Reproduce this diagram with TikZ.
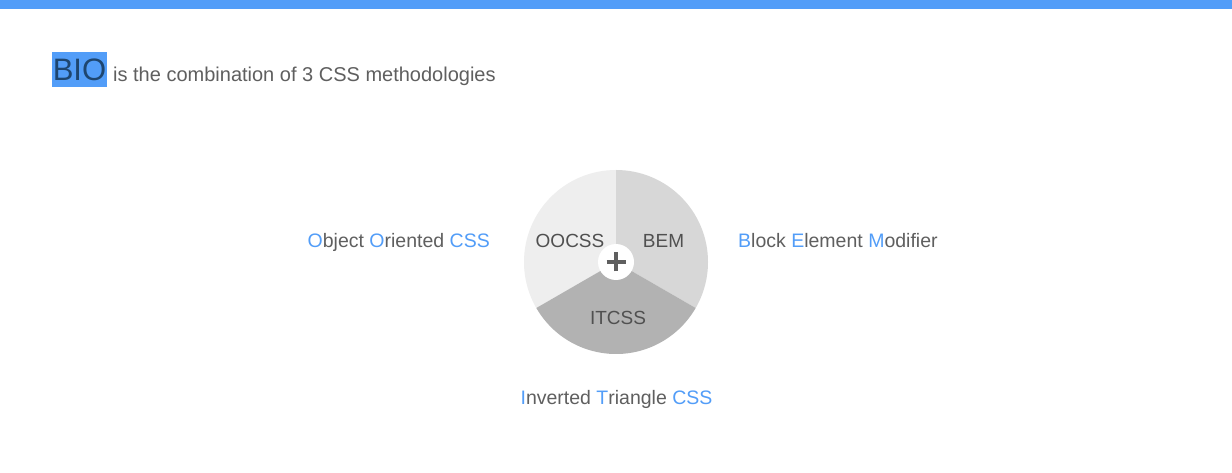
\documentclass[tikz,border=0pt]{standalone}
\usepackage{fontspec}
\setmainfont{Liberation Sans}
\usetikzlibrary{calc}
\definecolor{bioblue}{RGB}{82,157,248}
\definecolor{biodark}{RGB}{30,70,112}
\definecolor{textgray}{RGB}{95,95,95}
\definecolor{slicetext}{RGB}{80,80,80}
\definecolor{oocssgray}{RGB}{238,238,238}
\definecolor{bemgray}{RGB}{215,215,215}
\definecolor{itcssgray}{RGB}{178,178,178}
\newcommand{\hl}[1]{\textcolor{bioblue}{#1}}

\begin{document}
\begin{tikzpicture}[x=1pt, y=1pt, line cap=round, line join=round,
    txt/.style={text=textgray, inner sep=0pt, font=\fontsize{19.5}{22}\selectfont},
    slice/.style={text=slicetext, inner sep=0pt, font=\fontsize{19}{22}\selectfont}]
\useasboundingbox (0,-473) rectangle (1232,0);
\fill[white] (0,-473) rectangle (1232,0);
\fill[bioblue] (0,-9) rectangle (1232,0);
% title
\node[fill=bioblue, text=biodark, minimum width=55, minimum height=35, inner sep=0pt,
      font=\fontsize{31}{34}\selectfont] (bio) at (79.5,-69.5) {BIO};
\node[txt, anchor=base west, font=\fontsize{20}{24}\selectfont] (intro) at (113,-82) {is the combination of 3 CSS methodologies};
% pie
\coordinate (c) at (616,-262);
\fill[oocssgray] (c) -- ++(90:92) arc[start angle=90, end angle=210, radius=92] -- cycle;
\fill[bemgray] (c) -- ++(90:92) arc[start angle=90, end angle=-30, radius=92] -- cycle;
\fill[itcssgray] (c) -- ++(210:92) arc[start angle=210, end angle=330, radius=92] -- cycle;
\fill[white] (c) circle (18);
\draw[textgray, line width=4.5, line cap=butt] ($(c)+(-9.5,0)$) -- ($(c)+(9.5,0)$);
\draw[textgray, line width=4.5, line cap=butt] ($(c)+(0,-9.5)$) -- ($(c)+(0,9.5)$);
\node[slice, anchor=base] (oocss) at (570,-247.5) {OOCSS};
\node[slice, anchor=base] (bem) at (663.5,-247.5) {BEM};
\node[slice, anchor=base] (itcss) at (618,-324) {ITCSS};
% descriptions
\node[txt, anchor=base east] (oodesc) at (490,-248) {\hl{O}bject \hl{O}riented \hl{CSS}};
\node[txt, anchor=base west] (bemdesc) at (738,-248) {\hl{B}lock \hl{E}lement \hl{M}odifier};
\node[txt, anchor=base] (itdesc) at (616.5,-404) {\hl{I}nverted \hl{T}riangle \hl{CSS}};
\end{tikzpicture}
\end{document}
